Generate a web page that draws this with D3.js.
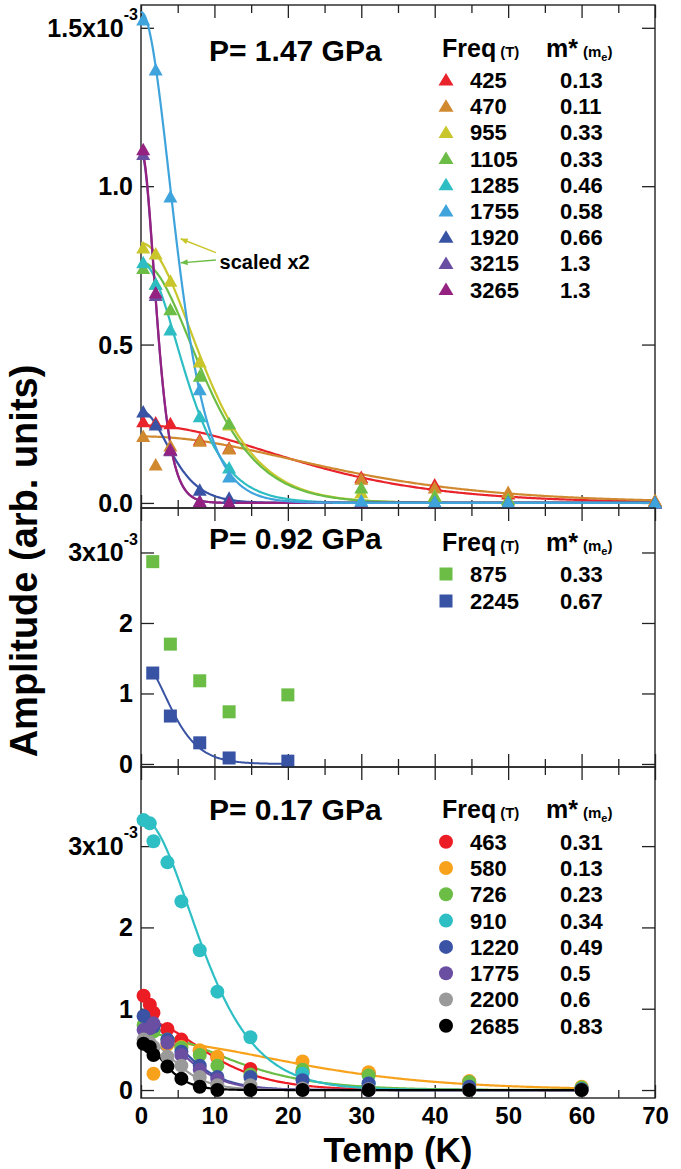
<!DOCTYPE html>
<html><head><meta charset="utf-8">
<script src="https://cdn.jsdelivr.net/npm/d3@7/dist/d3.min.js"></script>
<style>
body{margin:0;background:#fff;}
svg{display:block;font-family:"Liberation Sans",Arial,Helvetica,sans-serif;font-weight:bold;}
</style></head><body>
<svg id="chart" width="681" height="1169"></svg>
<script>
// ---------- P = 1.47 GPa (triangles) ----------
const tempsHigh = [0.3, 2, 4, 8, 12, 30, 40, 50, 70];
const freqHigh = ["425", "470", "955", "1105", "1285", "1755", "1920", "3215", "3265"];
const massHigh = ["0.13", "0.11", "0.33", "0.33", "0.46", "0.58", "0.66", "1.3", "1.3"];
const colorsHigh = ["#e8232b", "#d0892f", "#c9c62c", "#6bbd46", "#2dbdc3", "#3fa3dc", "#3853a4", "#6a4ea2", "#952181"];
const ampHigh = [
  [0.256, 0.252, 0.250, 0.199, 0.173, 0.080, 0.057, 0.028, 0.006],
  [0.210, 0.120, 0.180, 0.195, 0.170, 0.075, 0.047, 0.033, 0.008],
  [0.805, 0.786, 0.700, 0.445, 0.246, 0.032, 0.022, 0.010, 0.003],
  [0.740, 0.690, 0.610, 0.400, 0.250, 0.047, 0.020, 0.010, 0.002],
  [0.758, 0.690, 0.546, 0.272, 0.110, 0.005, 0.002, 0.000, 0.000],
  [1.525, 1.367, 0.966, 0.357, 0.082, 0.005, 0.002, 0.001, 0.000],
  [0.287, 0.246, 0.167, 0.040, 0.015, 0.000, 0.000, 0.000, 0.000],
  [1.100, 0.655, 0.165, 0.005, 0.000, 0.000, 0.000, 0.000, 0.000],
  [1.115, 0.663, 0.167, 0.003, 0.000, 0.000, 0.000, 0.000, 0.000]
];
const fitA0High = [0.245, 0.21, 0.82, 0.76, 0.76, 1.55, 0.29, 1.11, 1.12];
const drawOrderHigh = [0, 1, 2, 3, 4, 6, 7, 8, 5];

// ---------- P = 0.92 GPa (squares) ----------
const tempsMid = [1.6, 4, 8, 12, 20];
const freqMid = ["875", "2245"];
const massMid = ["0.33", "0.67"];
const colorsMid = ["#6bbd46", "#3853a4"];
const ampMid = [
  [2.87, 1.70, 1.18, 0.74, 0.98],
  [1.29, 0.68, 0.30, 0.085, 0.04]
];
const fitA0Mid = [null, 1.45];

// ---------- P = 0.17 GPa (circles) ----------
const tempsLow = [0.35, 1.2, 1.7, 3.6, 5.5, 8, 10.4, 14.9, 22, 31, 44.7, 60];
const freqLow = ["463", "580", "726", "910", "1220", "1775", "2200", "2685"];
const massLow = ["0.31", "0.13", "0.23", "0.34", "0.49", "0.5", "0.6", "0.83"];
const colorsLow = ["#ec1c24", "#f8a21c", "#6bbd46", "#2ebfc5", "#3a53a4", "#6a4ea2", "#9a9a9a", "#000000"];
const ampLow = [
  [1.16, 1.05, 0.95, 0.75, 0.62, 0.48, 0.40, 0.26, 0.22, 0.21, 0.10, 0.02],
  [null, null, 0.20, 0.56, 0.53, 0.49, 0.41, null, 0.35, 0.22, 0.11, 0.04],
  [0.80, 0.77, 0.72, 0.62, 0.52, 0.43, 0.30, 0.19, 0.25, 0.18, 0.10, 0.03],
  [3.32, 3.28, 3.06, 2.80, 2.32, 1.72, 1.21, 0.65, 0.20, 0.08, 0.03, 0.01],
  [0.91, 0.80, 0.78, 0.62, 0.47, 0.30, 0.16, 0.16, 0.12, 0.08, 0.04, 0.01],
  [0.74, 0.76, 0.82, 0.58, 0.43, 0.25, 0.13, 0.03, 0.01, 0.00, 0.00, 0.00],
  [0.62, 0.58, 0.53, 0.41, 0.30, 0.16, 0.06, 0.06, 0.02, 0.01, 0.00, 0.00],
  [0.57, 0.53, 0.43, 0.29, 0.14, 0.04, 0.00, 0.00, 0.00, 0.00, 0.00, 0.00]
];
const fitA0Low = [0.86, 0.60, 0.70, 3.35, 0.92, 0.85, 0.65, 0.58];
const fitStartLow = [1.5, 3.5, 0.4, 0.3, 0.4, 0.4, 0.4, 0.4];

// ---------- axis ticks ----------
const xMajorTicks = [0, 10, 20, 30, 40, 50, 60, 70];
const xMinorTicks = [5, 15, 25, 35, 45, 55, 65];
const yTicksHigh = [0, 0.5, 1.0, 1.5];
const yLabelsHigh = ["0.0", "0.5", "1.0", "1.5x10"];
const yTicksMid = [0, 1, 2, 3];
const yLabelsMid = ["0", "1", "2", "3x10"];
const yTicksLow = [0, 1, 2, 3];
const yLabelsLow = ["0", "1", "2", "3x10"];

// Lifshitz–Kosevich thermal damping factor X/sinh(X), X = 14.69 m* T / B
const B_EFF = 20;
function lk(t, a0, m) {
  const X = 14.69 * m * t / B_EFF;
  return X < 1e-9 ? a0 : a0 * X / Math.sinh(X);
}

const svg = d3.select("#chart");
const X0 = 141, X1 = 655;
const x = d3.scaleLinear().domain([0, 70]).range([X0, X1]);

const panels = [
  {top: 5, bottom: 508, domain: [-0.016, 1.572], ticks: yTicksHigh, labels: yLabelsHigh},
  {top: 508, bottom: 767, domain: [-0.043, 3.631], ticks: yTicksMid, labels: yLabelsMid},
  {top: 767, bottom: 1098, domain: [-0.098, 3.973], ticks: yTicksLow, labels: yLabelsLow}
];
panels.forEach(p => { p.y = d3.scaleLinear().domain(p.domain).range([p.bottom, p.top]); });

const AX = "#222";

function drawFrame(p, showXLabels) {
  const g = svg.append("g");
  // bottom / top x ticks (inward)
  const mk = (axisFn, vals, size, yPos, labels) => {
    const a = axisFn(x).tickValues(vals).tickSizeInner(-size).tickSizeOuter(0)
      .tickPadding(9).tickFormat(labels ? d3.format("d") : () => "");
    const ag = g.append("g").attr("transform", `translate(0,${yPos})`).call(a);
    ag.select(".domain").remove();
    ag.selectAll("line").attr("stroke", AX).attr("stroke-width", 1.3);
    ag.selectAll("text").attr("font-size", 24).attr("font-family", "inherit").attr("font-weight", "bold").attr("fill", "#000");
    return ag;
  };
  mk(d3.axisBottom, xMajorTicks, 13, p.bottom, showXLabels);
  mk(d3.axisBottom, xMinorTicks, 8, p.bottom, false);
  mk(d3.axisTop, xMajorTicks, 13, p.top, false);
  mk(d3.axisTop, xMinorTicks, 8, p.top, false);

  // left and right y ticks
  const yl = g.append("g").attr("transform", `translate(${X0},0)`)
    .call(d3.axisLeft(p.y).tickValues(p.ticks).tickSizeInner(-13).tickSizeOuter(0).tickFormat(() => ""));
  yl.select(".domain").remove();
  yl.selectAll("line").attr("stroke", AX).attr("stroke-width", 1.3);
  const yr = g.append("g").attr("transform", `translate(${X1},0)`)
    .call(d3.axisRight(p.y).tickValues(p.ticks).tickSizeInner(-13).tickSizeOuter(0).tickFormat(() => ""));
  yr.select(".domain").remove();
  yr.selectAll("line").attr("stroke", AX).attr("stroke-width", 1.3);

  // y tick labels; the top one carries the x10^-3 exponent
  p.ticks.forEach((v, i) => {
    const last = i === p.ticks.length - 1;
    const t = g.append("text").attr("y", p.y(v)).attr("dy", "0.36em")
      .attr("text-anchor", "end").attr("font-size", 25).attr("fill", "#000")
      .attr("x", last ? 138 : 133);
    t.append("tspan").text(p.labels[i]);
    if (last) t.append("tspan").attr("font-size", 16).attr("dy", "-1.05em").text("-3");
  });

  // frame
  g.append("rect").attr("x", X0).attr("y", p.top).attr("width", X1 - X0).attr("height", p.bottom - p.top)
    .attr("fill", "none").attr("stroke", AX).attr("stroke-width", 1.4);
}

const triPath = "M0,-7 L7,5.5 L-7,5.5 Z";
const legTriPath = "M0,-7 L7.5,5.5 L-7.5,5.5 Z";

function fitLine(p, a0, m, t0, t1, color, w) {
  const pts = d3.range(t0, t1 + 1e-9, 0.2).map(t => [t, lk(t, a0, m)]);
  svg.append("path").datum(pts)
    .attr("d", d3.line().x(d => x(d[0])).y(d => p.y(d[1])).curve(d3.curveLinear))
    .attr("fill", "none").attr("stroke", color).attr("stroke-width", w || 2.2);
}

function title(txt, yBase) {
  svg.append("text").attr("x", 209).attr("y", yBase).attr("font-size", 30).attr("fill", "#000").text(txt);
}

function legendHeader(yBase) {
  const h = svg.append("text").attr("x", 442).attr("y", yBase).attr("font-size", 25).attr("fill", "#000");
  h.append("tspan").text("Freq");
  h.append("tspan").attr("font-size", 15).attr("dx", 4).text("(T)");
  const m = svg.append("text").attr("x", 546).attr("y", yBase).attr("font-size", 25).attr("fill", "#000");
  m.append("tspan").text("m*");
  m.append("tspan").attr("font-size", 15).attr("dx", 5).text("(m");
  m.append("tspan").attr("font-size", 11).attr("dy", 4).text("e");
  m.append("tspan").attr("font-size", 15).attr("dy", -4).text(")");
}

function legendRows(freqs, masses, colors, y0, dy, shape) {
  freqs.forEach((f, i) => {
    const yc = y0 + i * dy;
    if (shape === "tri") {
      svg.append("path").attr("d", legTriPath).attr("transform", `translate(446,${yc})`).attr("fill", colors[i]);
    } else if (shape === "sq") {
      svg.append("rect").attr("x", 439.5).attr("y", yc - 6.5).attr("width", 13).attr("height", 13).attr("fill", colors[i]);
    } else {
      svg.append("circle").attr("cx", 446).attr("cy", yc).attr("r", 7).attr("fill", colors[i]);
    }
    svg.append("text").attr("x", 470).attr("y", yc).attr("dy", "0.36em").attr("font-size", 22).attr("fill", "#000").text(f);
    svg.append("text").attr("x", 560).attr("y", yc).attr("dy", "0.36em").attr("font-size", 22).attr("fill", "#000").text(masses[i]);
  });
}

// ===== top panel: 1.47 GPa =====
const pH = panels[0];
drawFrame(pH, false);
drawOrderHigh.forEach(i => fitLine(pH, fitA0High[i], +massHigh[i], 0, 70, colorsHigh[i]));
drawOrderHigh.forEach(i => {
  svg.append("g").selectAll("path").data(tempsHigh.map((t, k) => [t, ampHigh[i][k]])).join("path")
    .attr("d", triPath).attr("transform", d => `translate(${x(d[0])},${pH.y(d[1])})`)
    .attr("fill", colorsHigh[i]);
});
title("P= 1.47 GPa", 61);
legendHeader(57);
legendRows(freqHigh, massHigh, colorsHigh, 80, 26.2, "tri");

// "scaled x2" annotation with two arrows
const arrowDefs = [
  {from: [10.2, 0.79], to: [5.4, 0.834], color: "#c9c62c"},
  {from: [10.2, 0.767], to: [5.4, 0.758], color: "#6bbd46"}
];
arrowDefs.forEach(a => {
  const x1 = x(a.from[0]), y1 = pH.y(a.from[1]), x2 = x(a.to[0]), y2 = pH.y(a.to[1]);
  svg.append("line").attr("x1", x1).attr("y1", y1).attr("x2", x2).attr("y2", y2)
    .attr("stroke", a.color).attr("stroke-width", 1.4);
  const ang = Math.atan2(y2 - y1, x2 - x1) * 180 / Math.PI;
  svg.append("path").attr("d", "M0,0 L-7,-3 L-7,3 Z")
    .attr("transform", `translate(${x2},${y2}) rotate(${ang})`).attr("fill", a.color);
});
svg.append("text").attr("x", x(10.7)).attr("y", pH.y(0.76)).attr("dy", "0.33em")
  .attr("font-size", 20).attr("fill", "#000").text("scaled x2");

// ===== middle panel: 0.92 GPa =====
const pM = panels[1];
drawFrame(pM, false);
fitLine(pM, fitA0Mid[1], +massMid[1], tempsMid[0], tempsMid[tempsMid.length - 1], colorsMid[1], 2);
ampMid.forEach((vals, i) => {
  svg.append("g").selectAll("rect").data(tempsMid.map((t, k) => [t, vals[k]])).join("rect")
    .attr("x", d => x(d[0]) - 6.5).attr("y", d => pM.y(d[1]) - 6.5)
    .attr("width", 13).attr("height", 13).attr("fill", colorsMid[i]);
});
title("P= 0.92 GPa", 549);
legendHeader(551);
legendRows(freqMid, massMid, colorsMid, 574, 27, "sq");

// ===== bottom panel: 0.17 GPa =====
const pL = panels[2];
drawFrame(pL, true);
ampLow.forEach((vals, i) => fitLine(pL, fitA0Low[i], +massLow[i], fitStartLow[i], 60, colorsLow[i], 2.2));
ampLow.forEach((vals, i) => {
  svg.append("g").selectAll("circle")
    .data(tempsLow.map((t, k) => [t, vals[k]]).filter(d => d[1] !== null)).join("circle")
    .attr("cx", d => x(d[0])).attr("cy", d => pL.y(d[1])).attr("r", 7).attr("fill", colorsLow[i]);
});
title("P= 0.17 GPa", 820);
legendHeader(818);
legendRows(freqLow, massLow, colorsLow, 841.7, 26.3, "circ");

// axis titles
svg.append("text").attr("x", 398).attr("y", 1162).attr("text-anchor", "middle")
  .attr("font-size", 35).attr("fill", "#000").text("Temp (K)");
svg.append("text").attr("transform", "translate(37,561) rotate(-90)").attr("text-anchor", "middle")
  .attr("font-size", 38).attr("fill", "#000").text("Amplitude (arb. units)");
</script>
</body></html>
